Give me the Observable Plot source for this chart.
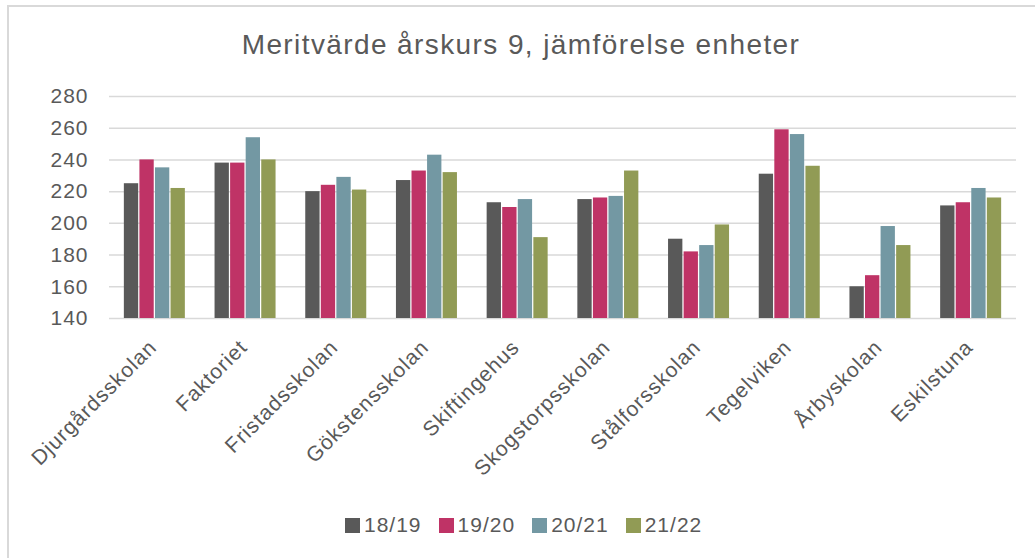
<!DOCTYPE html>
<html>
<head>
<meta charset="utf-8">
<script src="https://cdn.jsdelivr.net/npm/d3@7"></script>
<script src="https://cdn.jsdelivr.net/npm/@observablehq/plot@0.6"></script>
<style>
  body { margin: 0; background: #fff; font-family: "Liberation Sans", Arial, sans-serif; }
  #wrap { position: relative; width: 1035px; height: 558px; overflow: hidden; }
  #frame { position: absolute; left: 7px; top: 5px; width: 1100px; height: 600px;
           border-top: 2px solid #d9d9d9; border-left: 2px solid #d9d9d9; }
  #title { position: absolute; left: 0; width: 1042px; top: 31px; text-align: center;
           font-size: 28px; line-height: 28px; color: #595959; letter-spacing: 1.4px; }
  #grid, #chart { position: absolute; left: 0; top: 80px; }
  #legend { position: absolute; left: 345px; top: 511px; display: flex; align-items: center;
            font-size: 21px; line-height: 28px; color: #595959; letter-spacing: 1px; }
  .item { display: flex; align-items: center; margin-right: 17px; }
  .sw { width: 15px; height: 15px; margin-right: 4px; }
</style>
</head>
<body>
<div id="wrap">
  <div id="frame"></div>
  <div id="title">Meritvärde årskurs 9, jämförelse enheter</div>
  <div id="grid"></div>
  <div id="chart"></div>
  <div id="legend"></div>
</div>
<script>
const schools = ["Djurgårdsskolan","Faktoriet","Fristadsskolan","Gökstensskolan","Skiftingehus","Skogstorpsskolan","Stålforsskolan","Tegelviken","Årbyskolan","Eskilstuna"];
const years = ["18/19","19/20","20/21","21/22"];
const v1819 = [225,238,220,227,213,215,190,231,160,211];
const v1920 = [240,238,224,233,210,216,182,259,167,213];
const v2021 = [235,254,229,243,215,217,186,256,198,222];
const v2122 = [222,240,221,232,191,233,199,236,186,216];
const yTicks = [140,160,180,200,220,240,260,280];
const colors = ["#595959","#bf3366","#7398a3","#919b55"];

const series = [v1819, v1920, v2021, v2122];
const data = [];
schools.forEach((s, i) => years.forEach((y, j) => data.push({school: s, year: y, value: series[j][i]})));

const common = {
  width: 1035,
  height: 420,
  marginTop: 16,
  marginBottom: 182,
  marginLeft: 109,
  marginRight: 19,
  style: {fontFamily: "'Liberation Sans', Arial, sans-serif", color: "#595959", letterSpacing: "1px", background: "transparent"}
};

// Background layer: continuous gridlines and y-axis labels
const grid = Plot.plot({
  ...common,
  y: {domain: [140, 280], axis: null, label: null},
  marks: [
    Plot.ruleY(yTicks, {stroke: "#d9d9d9", strokeWidth: 1.5}),
    Plot.axisY(yTicks, {tickSize: 0, tickPadding: 21, fontSize: 21, fill: "#595959", label: null})
  ]
});
document.getElementById("grid").appendChild(grid);

// Foreground layer: grouped bars and rotated category labels
const chart = Plot.plot({
  ...common,
  fx: {domain: schools, paddingInner: 0.3, paddingOuter: 0.15, round: false, axis: null, label: null},
  x: {domain: years, padding: 0.08, round: false, axis: null, label: null},
  y: {domain: [140, 280], axis: null, label: null},
  color: {domain: years, range: colors},
  marks: [
    Plot.barY(data, {fx: "school", x: "year", y1: 140, y2: "value", fill: "year"}),
    Plot.text(schools, {fx: d => d, text: d => d, frameAnchor: "bottom", rotate: -45,
      textAnchor: "end", lineAnchor: "bottom", dx: 3, dy: 30, fontSize: 21, fill: "#595959"})
  ]
});
document.getElementById("chart").appendChild(chart);

const legend = document.getElementById("legend");
years.forEach((y, i) => {
  const it = document.createElement("div");
  it.className = "item";
  const sw = document.createElement("div");
  sw.className = "sw";
  sw.style.background = colors[i];
  const t = document.createElement("span");
  t.textContent = y;
  it.appendChild(sw); it.appendChild(t);
  legend.appendChild(it);
});
</script>
</body>
</html>
